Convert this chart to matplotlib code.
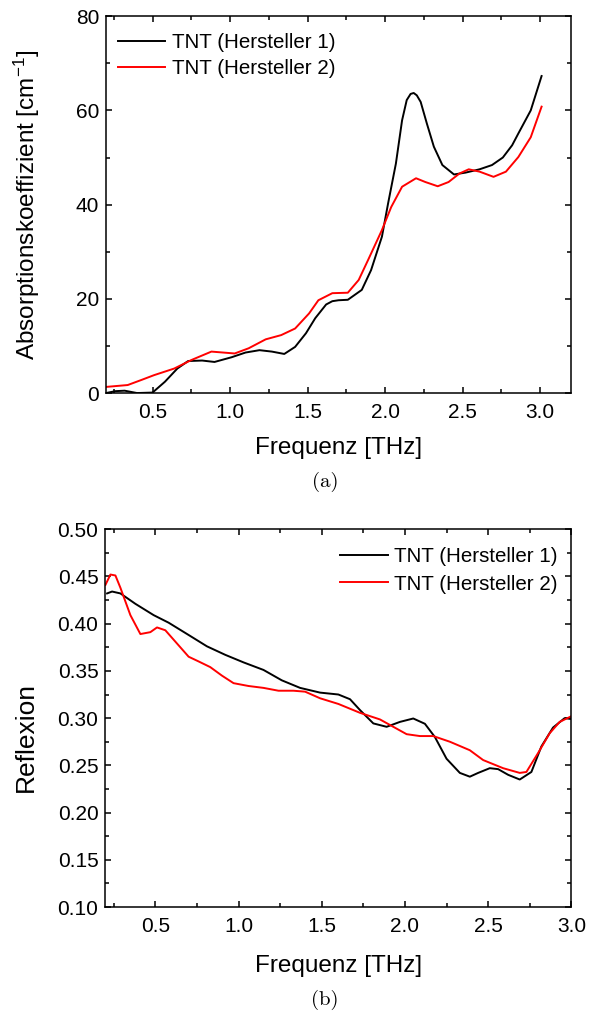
import matplotlib
matplotlib.use("Agg")
import matplotlib.pyplot as plt
from matplotlib.ticker import MultipleLocator, FormatStrFormatter

plt.rcParams["font.family"] = ["Liberation Sans", "DejaVu Sans"]
plt.rcParams["mathtext.fontset"] = "custom"
plt.rcParams["mathtext.rm"] = "Liberation Sans"
plt.rcParams["mathtext.it"] = "Liberation Sans:italic"
plt.rcParams["mathtext.bf"] = "Liberation Sans:bold"

LABEL_1 = "TNT (Hersteller 1)"
LABEL_2 = "TNT (Hersteller 2)"

# (a) absorption coefficient [cm^-1] vs frequency [THz]
abs_f1 = [0.20, 0.26, 0.32, 0.40, 0.50, 0.58, 0.66, 0.73, 0.82, 0.90, 1.01, 1.10, 1.19,
          1.27, 1.35, 1.42, 1.49, 1.55, 1.62, 1.66, 1.70, 1.76, 1.85, 1.91, 1.98, 2.02,
          2.07, 2.11, 2.14, 2.165, 2.185, 2.205, 2.23, 2.27, 2.315, 2.37, 2.445, 2.52,
          2.61, 2.69, 2.76, 2.82, 2.86, 2.94, 3.01]
abs_h1 = [0.0, 0.4, 0.5, 0.0, 0.1, 2.4, 5.2, 6.8, 6.9, 6.6, 7.6, 8.6, 9.1,
          8.8, 8.3, 9.8, 12.7, 15.9, 18.8, 19.5, 19.7, 19.8, 21.9, 26.1, 33.2, 40.3,
          48.7, 57.9, 62.2, 63.5, 63.7, 63.2, 61.8, 57.2, 52.3, 48.4, 46.4, 46.8,
          47.5, 48.4, 50.0, 52.6, 55.1, 60.0, 67.3]
abs_f2 = [0.20, 0.34, 0.43, 0.51, 0.64, 0.75, 0.88, 1.03, 1.12, 1.23, 1.33, 1.42, 1.51,
          1.57, 1.66, 1.76, 1.83, 1.89, 1.98, 2.04, 2.11, 2.20, 2.26, 2.34, 2.41, 2.48,
          2.54, 2.61, 2.70, 2.78, 2.86, 2.94, 3.01]
abs_h2 = [1.3, 1.7, 2.8, 3.8, 5.2, 7.0, 8.8, 8.4, 9.5, 11.4, 12.3, 13.7, 16.9,
          19.7, 21.2, 21.3, 24.0, 28.2, 34.6, 39.5, 43.8, 45.6, 44.8, 43.9, 44.8, 46.6,
          47.5, 47.0, 45.9, 47.0, 50.1, 54.3, 60.8]

# (b) reflection vs frequency [THz]
ref_f1 = [0.21, 0.24, 0.29, 0.38, 0.49, 0.58, 0.70, 0.81, 0.92, 1.03, 1.15, 1.26, 1.37,
          1.49, 1.60, 1.67, 1.73, 1.81, 1.89, 1.97, 2.05, 2.12, 2.18, 2.25, 2.33, 2.39,
          2.44, 2.51, 2.56, 2.62, 2.69, 2.76, 2.82, 2.89, 2.96, 3.00]
ref_r1 = [0.432, 0.434, 0.432, 0.421, 0.409, 0.401, 0.388, 0.376, 0.367, 0.359, 0.351,
          0.340, 0.332, 0.327, 0.325, 0.320, 0.3085, 0.2944, 0.2908, 0.296, 0.2996, 0.294,
          0.280, 0.257, 0.242, 0.238, 0.242, 0.247, 0.246, 0.240, 0.235, 0.243, 0.270,
          0.290, 0.300, 0.299]
ref_f2 = [0.20, 0.23, 0.26, 0.29, 0.35, 0.41, 0.47, 0.51, 0.56, 0.63, 0.70, 0.76, 0.83,
          0.90, 0.97, 1.06, 1.15, 1.24, 1.33, 1.40, 1.49, 1.60, 1.73, 1.85, 1.93, 2.01,
          2.09, 2.17, 2.27, 2.39, 2.47, 2.59, 2.69, 2.73, 2.80, 2.87, 2.93, 3.00]
ref_r2 = [0.441, 0.452, 0.451, 0.438, 0.409, 0.389, 0.391, 0.396, 0.393, 0.379, 0.365,
          0.360, 0.354, 0.345, 0.337, 0.334, 0.332, 0.329, 0.329, 0.328, 0.321, 0.315,
          0.3056, 0.2986, 0.2908, 0.283, 0.281, 0.281, 0.275, 0.266, 0.2556, 0.247,
          0.242, 0.243, 0.263, 0.284, 0.296, 0.302]


def style_axes(ax):
    ax.tick_params(which="both", direction="in", top=True, right=True,
                   labelsize=15)
    ax.tick_params(axis="x", which="both", pad=7)
    ax.tick_params(axis="y", which="both", pad=5)
    ax.tick_params(which="major", length=4.5, width=1.1)
    ax.tick_params(which="minor", length=2.7, width=1.1)
    for s in ax.spines.values():
        s.set_linewidth(1.1)
    ax.xaxis.set_major_locator(MultipleLocator(0.5))
    ax.xaxis.set_minor_locator(MultipleLocator(0.25))
    ax.xaxis.set_major_formatter(FormatStrFormatter("%.1f"))


fig = plt.figure(figsize=(5.89, 10.13), dpi=100)

# --- (a) ---
ax1 = fig.add_axes([0.180, 0.612, 0.7895, 0.372])
ax1.plot(abs_f1, abs_h1, color="black", lw=1.4, label=LABEL_1)
ax1.plot(abs_f2, abs_h2, color="red", lw=1.4, label=LABEL_2)
ax1.set_xlim(0.2, 3.2)
ax1.set_ylim(0, 80)
ax1.yaxis.set_major_locator(MultipleLocator(20))
ax1.yaxis.set_minor_locator(MultipleLocator(10))
style_axes(ax1)
ax1.set_xlabel("Frequenz [THz]", fontsize=17.5, va="center")
ax1.xaxis.set_label_coords(0.5, -0.145)
ax1.set_ylabel("Absorptionskoeffizient [cm$^{-1}$]", fontsize=17.5, va="center")
ax1.yaxis.set_label_coords(-0.17, 0.5)
ax1.legend(loc="upper left", bbox_to_anchor=(0.026, 0.955), frameon=False,
           fontsize=14.8, handlelength=2.3, handletextpad=0.3, labelspacing=0.32,
           borderpad=0, borderaxespad=0)
fig.text(0.552, 0.524, "(a)", family="cmr10", ha="center", va="center", fontsize=15)

# --- (b) ---
ax2 = fig.add_axes([0.179, 0.1046, 0.791, 0.373])
ax2.plot(ref_f1, ref_r1, color="black", lw=1.4, label=LABEL_1)
ax2.plot(ref_f2, ref_r2, color="red", lw=1.4, label=LABEL_2)
ax2.set_xlim(0.2, 3.0)
ax2.set_ylim(0.10, 0.50)
ax2.yaxis.set_major_locator(MultipleLocator(0.05))
ax2.yaxis.set_minor_locator(MultipleLocator(0.025))
ax2.yaxis.set_major_formatter(FormatStrFormatter("%.2f"))
style_axes(ax2)
ax2.set_xlabel("Frequenz [THz]", fontsize=17.5, va="center")
ax2.xaxis.set_label_coords(0.5, -0.155)
ax2.set_ylabel("Reflexion", fontsize=19, va="center")
ax2.yaxis.set_label_coords(-0.17, 0.45)
ax2.legend(loc="upper right", bbox_to_anchor=(0.970, 0.952), frameon=False,
           fontsize=14.8, handlelength=2.3, handletextpad=0.3, labelspacing=0.4,
           borderpad=0, borderaxespad=0)
fig.text(0.552, 0.0128, "(b)", family="cmr10", ha="center", va="center", fontsize=15)

fig.savefig("out.png", dpi=100)
